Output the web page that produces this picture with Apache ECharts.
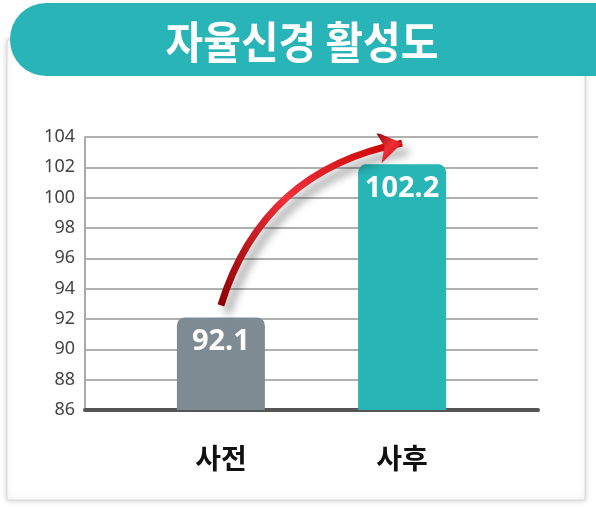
<!DOCTYPE html>
<html>
<head>
<meta charset="utf-8">
<script src="https://cdn.jsdelivr.net/npm/echarts@6/dist/echarts.min.js"></script>
<style>
  html, body { margin: 0; padding: 0; background: #fff; }
  #chart { width: 596px; height: 509px; }
</style>
</head>
<body>
<div id="chart"></div>
<script>
const chartTitle = '자율신경 활성도'
const categories = ['사전', '사후']
const values = [92.1, 102.2]
const barColors = ['#7f8b93', '#27b5b5']
const yTicks = { min: 86, max: 104, interval: 2 }
// arrow from top of the first bar toward the second
const arrowFrom = [1, 92.9]
const arrowTo = [2.95, 103.6]

// pad the axis with empty slots so the bars sit closer to the middle
const axisData = ['', categories[0], '', categories[1], '']
const barData = [null, { value: values[0], itemStyle: { color: barColors[0] } }, null,
  { value: values[1], itemStyle: { color: barColors[1] } }, null]

const chart = echarts.init(document.getElementById('chart'))

const option = {
  backgroundColor: '#fff',
  animation: false,
  graphic: [
    {
      type: 'rect',
      shape: { x: 7, y: 40, width: 578, height: 460 },
      style: { fill: '#fff', stroke: '#d6d6d6', lineWidth: 1, shadowBlur: 6, shadowColor: 'rgba(0,0,0,0.18)' },
      z: -10
    },
    {
      type: 'rect',
      shape: { x: 10, y: 3, width: 620, height: 73, r: 36 },
      style: { fill: '#29b5b7' },
      z: 10
    },
    {
      type: 'text',
      x: 302,
      y: 42,
      scaleX: 0.93,
      style: {
        text: chartTitle,
        fill: '#fff',
        font: 'bold 44px "Noto Sans CJK KR"',
        textAlign: 'center',
        textVerticalAlign: 'middle'
      },
      z: 11
    }
  ],
  grid: { left: 85, right: 58, top: 137, bottom: 99 },
  xAxis: {
    type: 'category',
    data: axisData,
    axisLine: { lineStyle: { color: '#555', width: 4 } },
    axisTick: { show: false },
    axisLabel: {
      interval: 0,
      margin: 34,
      color: '#111',
      fontSize: 28,
      fontWeight: 'bold',
      fontFamily: 'Noto Sans CJK KR'
    }
  },
  yAxis: {
    type: 'value',
    min: yTicks.min,
    max: yTicks.max,
    interval: yTicks.interval,
    axisLine: { show: true, lineStyle: { color: '#aaa', width: 2 } },
    axisTick: { show: false },
    splitLine: { lineStyle: { color: '#b0b0b0', width: 2 } },
    axisLabel: {
      margin: 10,
      color: '#444',
      fontSize: 18,
      fontFamily: 'Noto Sans'
    }
  },
  series: [
    {
      type: 'bar',
      data: barData,
      barWidth: 88,
      itemStyle: { borderRadius: [8, 8, 0, 0] },
      label: {
        show: true,
        position: 'insideTop',
        distance: 10,
        color: '#fff',
        fontSize: 29,
        fontWeight: 'bold',
        fontFamily: 'Noto Sans'
      }
    },
    {
      type: 'lines',
      coordinateSystem: 'cartesian2d',
      z: 5,
      symbol: ['none', 'arrow'],
      symbolSize: 24,
      lineStyle: {
        width: 7,
        curveness: 0.3,
        opacity: 1,
        color: new echarts.graphic.LinearGradient(0, 1, 1, 0, [
          { offset: 0, color: '#8a0000' },
          { offset: 0.5, color: '#f0303a' },
          { offset: 1, color: '#c80000' }
        ]),
        shadowBlur: 8,
        shadowColor: 'rgba(0,0,0,0.35)',
        shadowOffsetX: 6,
        shadowOffsetY: 8
      },
      data: [{ coords: [arrowFrom, arrowTo] }]
    }
  ]
}

chart.setOption(option)
</script>
</body>
</html>
